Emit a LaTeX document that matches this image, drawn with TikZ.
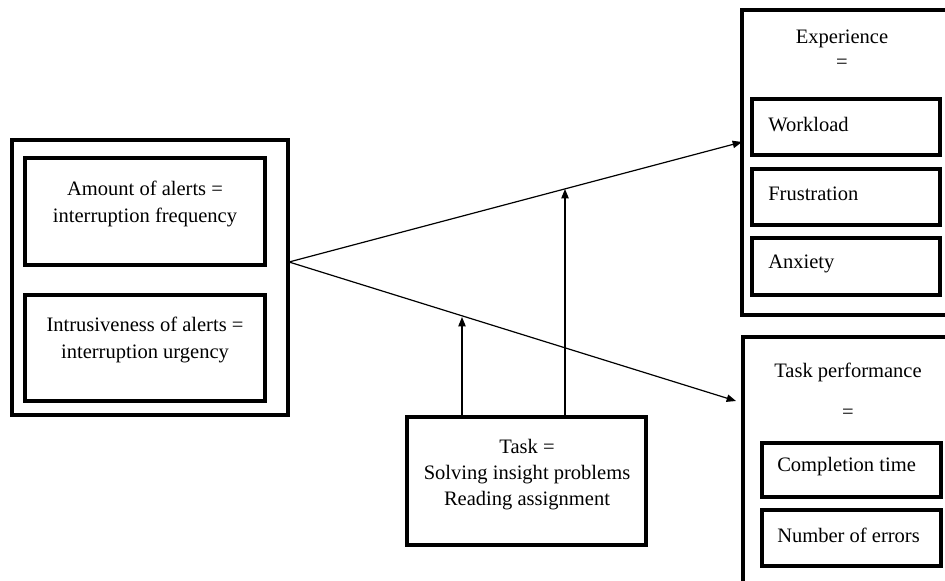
\documentclass[tikz,border=0pt]{standalone}
\usepackage{fontspec}
\setmainfont{Liberation Serif}
\usetikzlibrary{arrows.meta,fit}
\begin{document}
\begin{tikzpicture}[x=0.75pt,y=-0.75pt,
 outerbox/.style={draw,line width=2.6pt,inner sep=0pt},
 innerbox/.style={draw,line width=2.9pt,inner sep=0pt},
 lbl/.style={font=\fontsize{15.4}{20}\selectfont,align=center,inner sep=0pt},
 conn/.style={line width=0.9pt,-{Triangle[length=7pt,width=5.5pt]}}]
\clip (0,0) rectangle (945,581);
% left group
\node[outerbox,fit={(12,140)(288,415)}] (left) {};
\node[innerbox,fit={(25,158)(265,265)}] (amount) {};
\node[innerbox,fit={(25,295)(265,401)}] (intr) {};
\node[lbl] (amountT) at (145,204) {Amount of alerts =\\interruption frequency};
\node[lbl] (intrT) at (145,340) {Intrusiveness of alerts =\\interruption urgency};
% experience group
\node[outerbox,fit={(742,10)(950,315)}] (exp) {};
\node[lbl] (expT) at (842,39) {Experience};
\node[lbl] (expEq) at (842,64) {=};
\node[innerbox,fit={(752,99)(940,155)}] (work) {};
\node[innerbox,fit={(752,169)(940,225)}] (frus) {};
\node[innerbox,fit={(752,238)(940,295)}] (anx) {};
\node[lbl,anchor=west] (workT) at (768,125) {Workload};
\node[lbl,anchor=west] (frusT) at (768,194) {Frustration};
\node[lbl,anchor=west] (anxT) at (768,264) {Anxiety};
% task performance group
\node[outerbox,fit={(743,337)(950,600)}] (perf) {};
\node[lbl] (perfT) at (848,372) {Task performance};
\node[lbl] (perfEq) at (848,414) {=};
\node[innerbox,fit={(762,443)(941,497)}] (comp) {};
\node[innerbox,fit={(762,510)(941,566)}] (errs) {};
\node[lbl,anchor=west] (compT) at (777,467) {Completion time};
\node[lbl,anchor=west] (errsT) at (777,535) {Number of errors};
% task box
\node[innerbox,fit={(407,417)(646,545)}] (task) {};
\node[lbl,font=\fontsize{15.4}{19.5}\selectfont] (taskT) at (527,475) {Task =\\Solving insight problems\\Reading assignment};
% connectors
\coordinate (src) at (289,262);
\coordinate (expIn) at (742,142);
\coordinate (perfIn) at (736,401);
\coordinate (low1) at (462,416);
\coordinate (low2) at (565,416);
\coordinate (hitLow) at (462,317);
\coordinate (hitUp) at (565,189);
\draw[conn] (src) -- (expIn);
\draw[conn] (src) -- (perfIn);
\draw[conn] (low1) -- (hitLow);
\draw[conn] (low2) -- (hitUp);
\end{tikzpicture}
\end{document}
